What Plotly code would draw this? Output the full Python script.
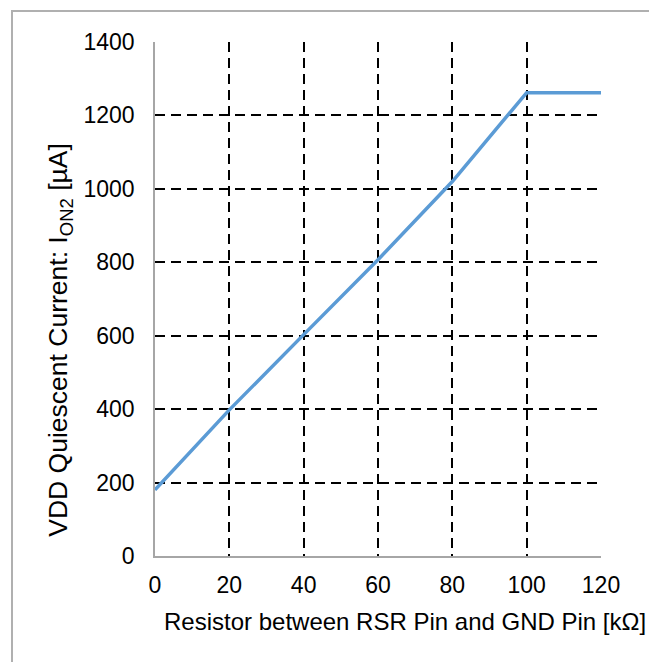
import plotly.graph_objects as go

resistance_kohm = [0, 20, 40, 60, 80, 100, 120]
current_ua = [180, 398, 603, 807, 1020, 1262, 1262]

x_ticks = [0, 20, 40, 60, 80, 100, 120]
y_ticks = [0, 200, 400, 600, 800, 1000, 1200, 1400]

x_title = "Resistor between RSR Pin and GND Pin [kΩ]"
y_title = "VDD Quiescent Current: I<sub>ON2</sub> [µA]"

OFF = 8  # page body margin
W, H = 657 - OFF, 662 - OFF
L, R, T, B = 155 - OFF, 601 - OFF, 42 - OFF, 556.5 - OFF

fig = go.Figure()
fig.add_trace(go.Scatter(
    x=resistance_kohm, y=current_ua, mode="lines",
    line=dict(color="#5B9BD5", width=3.5), hoverinfo="x+y", showlegend=False,
))

tick_font = dict(family="Liberation Sans, Arial, sans-serif", size=23, color="#000000")
xtitle_font = dict(family="Liberation Sans, Arial, sans-serif", size=24, color="#000000")
ytitle_font = dict(family="Liberation Sans, Arial, sans-serif", size=26.5, color="#000000")

axis_common = dict(
    showgrid=True, gridcolor="#000000", gridwidth=1.5, griddash="10px,6px",
    zeroline=False, showline=True, linecolor="#A6A6A6", linewidth=1.5,
    ticks="", tickfont=tick_font, mirror=False,
)

fig.update_layout(
    width=W, height=H,
    margin=dict(l=L, r=W - R, t=T, b=H - B),
    paper_bgcolor="white", plot_bgcolor="white",
    font=tick_font,
    xaxis=dict(range=[0, 120], tickvals=x_ticks, ticklabelstandoff=8, **axis_common),
    yaxis=dict(range=[0, 1400], tickvals=y_ticks, ticklabelstandoff=14, **axis_common),
)

pw = R - L
ph = B - T
def px_x(p):
    return (p - OFF - L) / pw
def px_y(p):
    return (B - (p - OFF)) / ph

fig.add_shape(type="rect", xref="paper", yref="paper",
              x0=px_x(12), x1=px_x(650), y0=px_y(690), y1=px_y(11),
              line=dict(color="#B0B0B0", width=2), fillcolor="rgba(0,0,0,0)", layer="below")

fig.add_annotation(text=x_title, xref="paper", yref="paper",
                   x=px_x(405), y=px_y(622), showarrow=False,
                   xanchor="center", yanchor="middle", font=xtitle_font)
fig.add_annotation(text=y_title, xref="paper", yref="paper",
                   x=px_x(60), y=px_y(340), showarrow=False, textangle=-90,
                   xanchor="center", yanchor="middle", font=ytitle_font)

fig.write_html("out.html")
